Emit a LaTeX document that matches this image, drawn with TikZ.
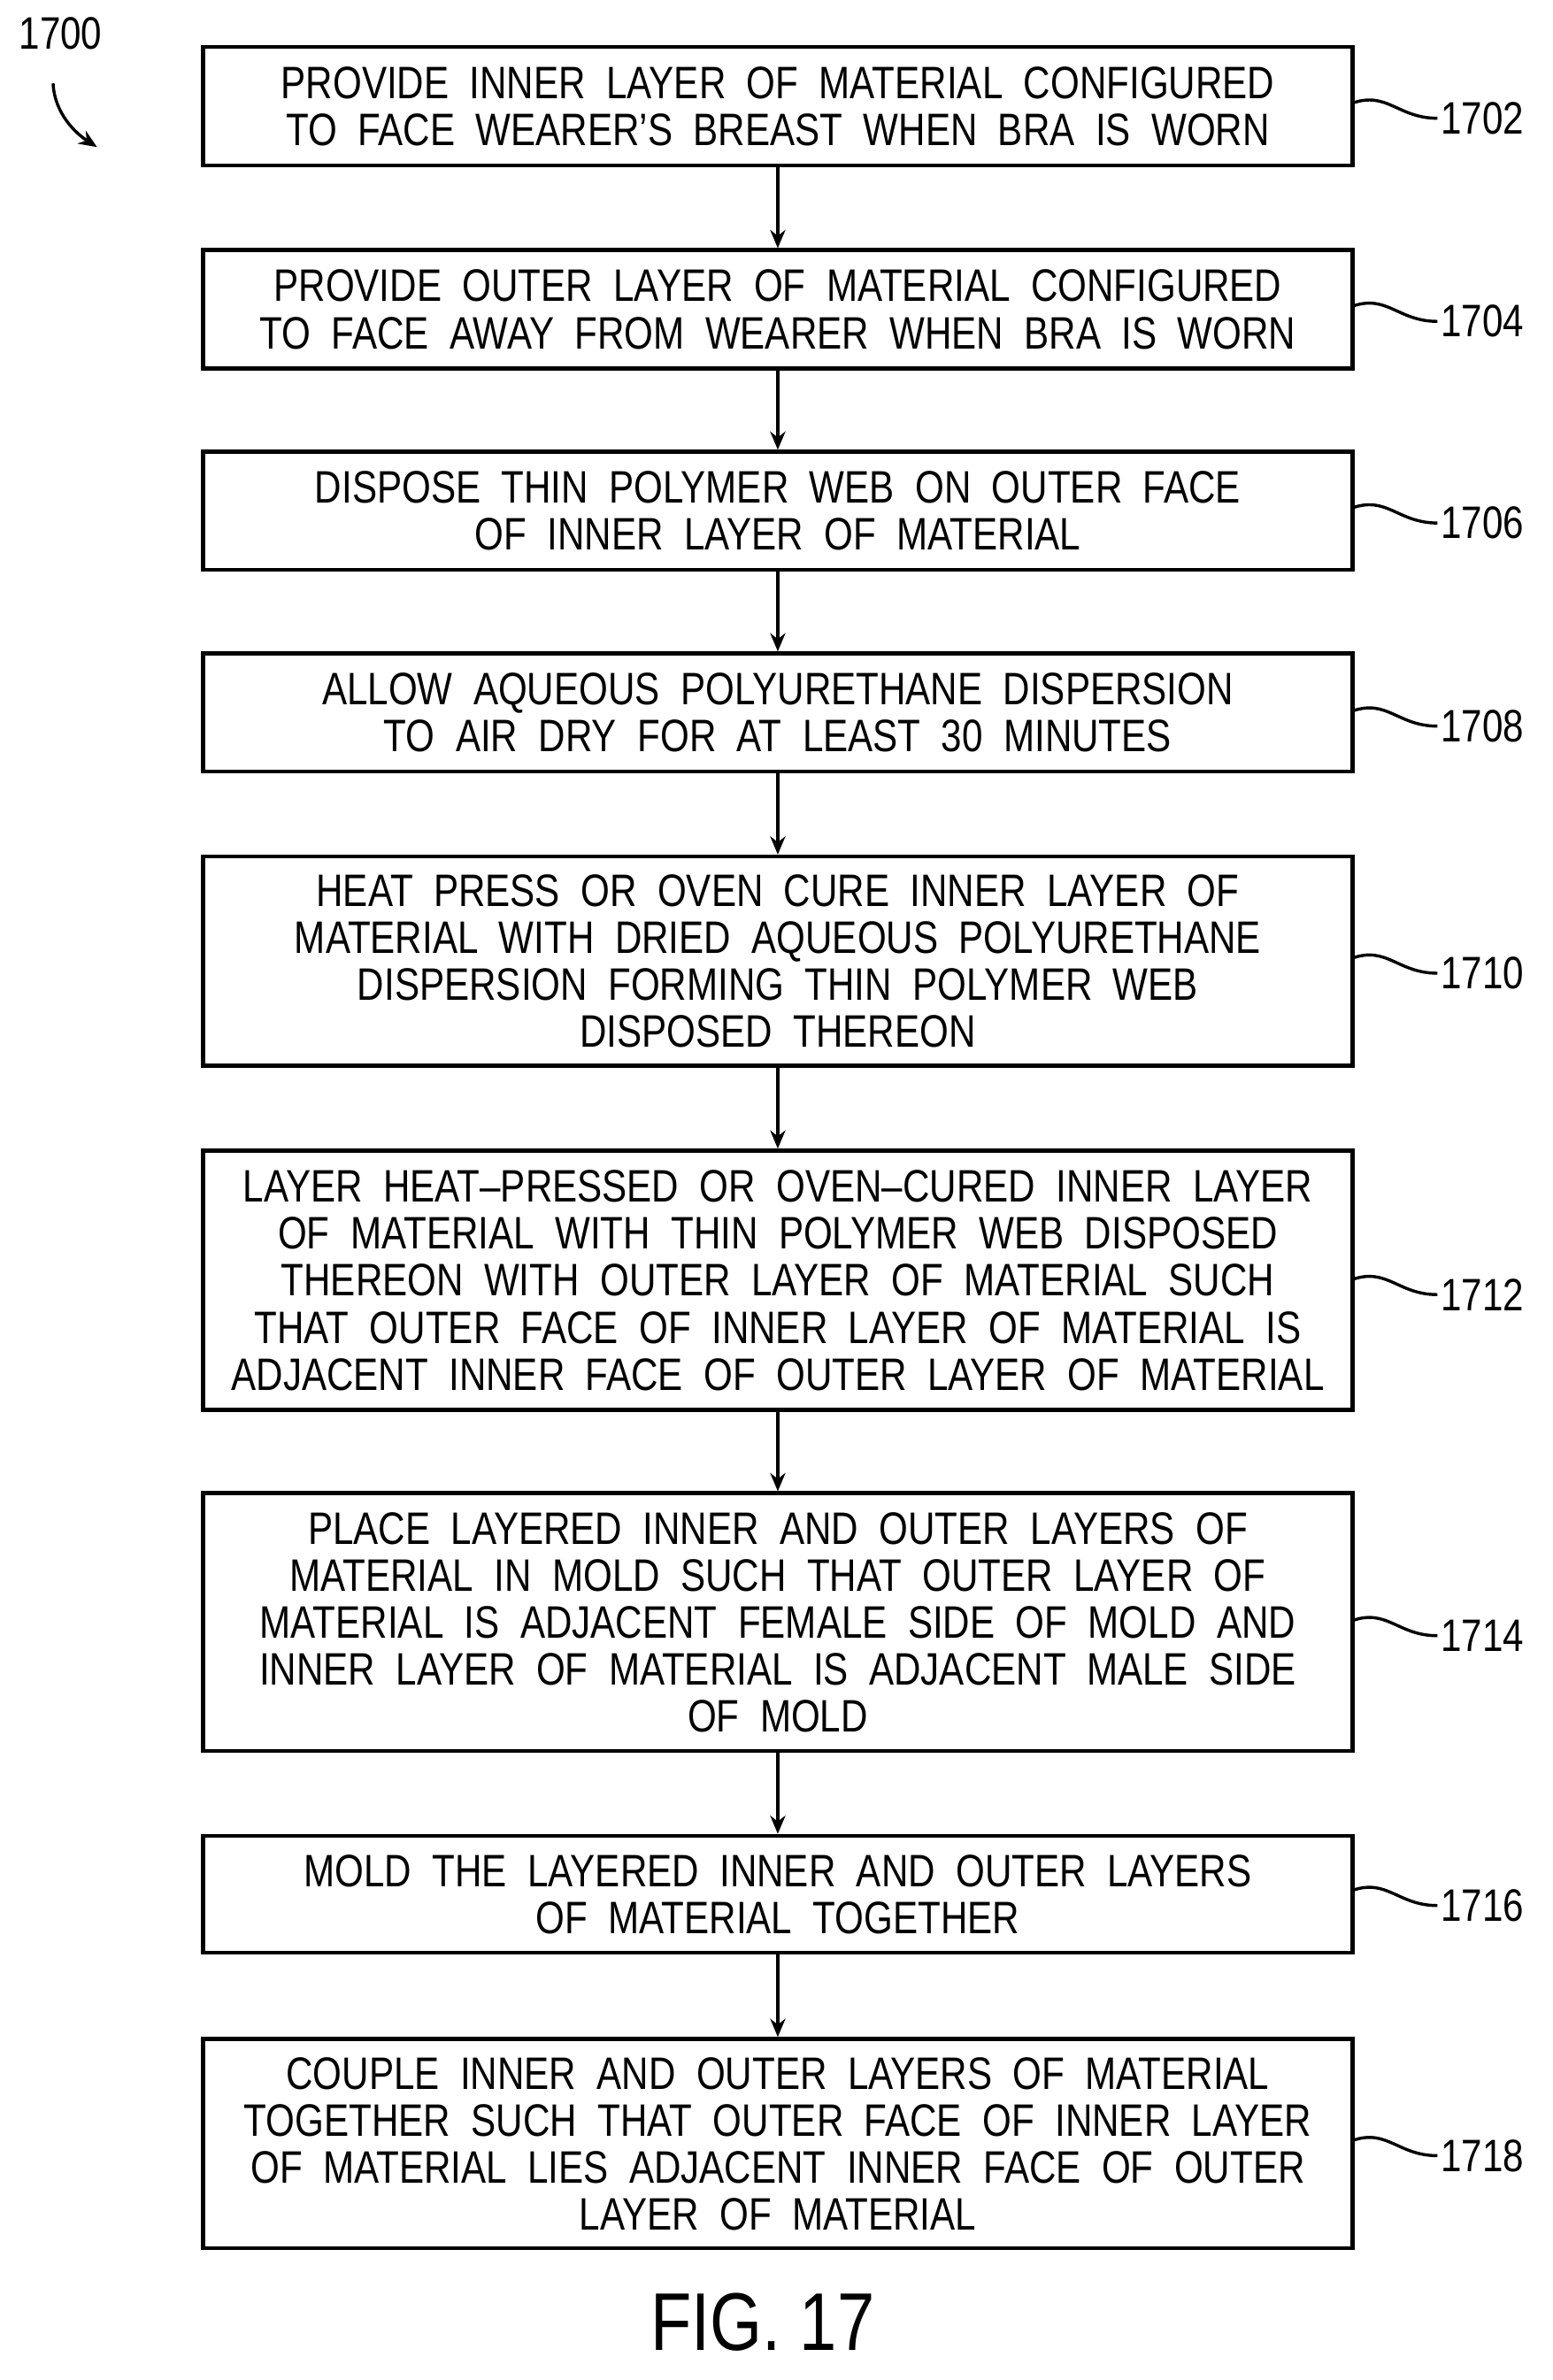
\documentclass[tikz,border=0pt]{standalone}
\usetikzlibrary{arrows.meta}
\usepackage{fontspec}
\setmainfont{Liberation Sans}[FakeStretch=0.82]
\begin{document}
\begin{tikzpicture}[x=0.5pt,y=-0.5pt,
 box/.style={draw,line width=1.3pt,minimum width=379pt,inner sep=0pt,align=center,font=\fontsize{15}{15.5}\selectfont,text depth=0pt},
 lab/.style={anchor=west,inner sep=1pt,font=\fontsize{15}{15}\selectfont},
 arr/.style={-{Stealth[length=6pt,width=5pt]},line width=1.3pt},
 sq/.style={line width=1pt}]
\useasboundingbox (0,0) rectangle (1024,1570);
\def\W{\ \ }
\node[box,minimum height=39pt] (b1) at (513,70) {PROVIDE\W INNER\W LAYER\W OF\W MATERIAL\W CONFIGURED\\TO\W FACE\W WEARER'S\W BREAST\W WHEN\W BRA\W IS\W WORN};
\node[box,minimum height=39pt] (b2) at (513,204) {PROVIDE\W OUTER\W LAYER\W OF\W MATERIAL\W CONFIGURED\\TO\W FACE\W AWAY\W FROM\W WEARER\W WHEN\W BRA\W IS\W WORN};
\node[box,minimum height=39pt] (b3) at (513,337) {DISPOSE\W THIN\W POLYMER\W WEB\W ON\W OUTER\W FACE\\OF\W INNER\W LAYER\W OF\W MATERIAL};
\node[box,minimum height=39pt] (b4) at (513,470) {ALLOW\W AQUEOUS\W POLYURETHANE\W DISPERSION\\TO\W AIR\W DRY\W FOR\W AT\W LEAST\W 30\W MINUTES};
\node[box,minimum height=69pt] (b5) at (513,634) {HEAT\W PRESS\W OR\W OVEN\W CURE\W INNER\W LAYER\W OF\\MATERIAL\W WITH\W DRIED\W AQUEOUS\W POLYURETHANE\\DISPERSION\W FORMING\W THIN\W POLYMER\W WEB\\DISPOSED\W THEREON};
\node[box,minimum height=85.5pt] (b6) at (513,844.5) {LAYER\W HEAT--PRESSED\W OR\W OVEN--CURED\W INNER\W LAYER\\OF\W MATERIAL\W WITH\W THIN\W POLYMER\W WEB\W DISPOSED\\THEREON\W WITH\W OUTER\W LAYER\W OF\W MATERIAL\W SUCH\\THAT\W OUTER\W FACE\W OF\W INNER\W LAYER\W OF\W MATERIAL\W IS\\ADJACENT\W INNER\W FACE\W OF\W OUTER\W LAYER\W OF\W MATERIAL};
\node[box,minimum height=85pt] (b7) at (513,1070) {PLACE\W LAYERED\W INNER\W AND\W OUTER\W LAYERS\W OF\\MATERIAL\W IN\W MOLD\W SUCH\W THAT\W OUTER\W LAYER\W OF\\MATERIAL\W IS\W ADJACENT\W FEMALE\W SIDE\W OF\W MOLD\W AND\\INNER\W LAYER\W OF\W MATERIAL\W IS\W ADJACENT\W MALE\W SIDE\\OF\W MOLD};
\node[box,minimum height=38.5pt] (b8) at (513,1249.5) {MOLD\W THE\W LAYERED\W INNER\W AND\W OUTER\W LAYERS\\OF\W MATERIAL\W TOGETHER};
\node[box,minimum height=69pt] (b9) at (513,1414) {COUPLE\W INNER\W AND\W OUTER\W LAYERS\W OF\W MATERIAL\\TOGETHER\W SUCH\W THAT\W OUTER\W FACE\W OF\W INNER\W LAYER\\OF\W MATERIAL\W LIES\W ADJACENT\W INNER\W FACE\W OF\W OUTER\\LAYER\W OF\W MATERIAL};
\foreach \i/\n/\y in {1/1702/78,2/1704/212,3/1706/345,4/1708/479,5/1710/642,6/1712/854,7/1714/1079,8/1716/1257,9/1718/1422}{
 \node[lab] (l\i) at (948,\y) {\n};
 \coordinate (s\i) at (892,\y-10);
 \draw[sq] (s\i) .. controls (915,\y-18) and (922,\y) .. (l\i.west);
}
\foreach \a/\b in {b1/b2,b2/b3,b3/b4,b4/b5,b5/b6,b6/b7,b7/b8,b8/b9}
 \draw[arr] (\a.south) -- (\b.north);
\node[font=\fontsize{15}{15}\selectfont] (n1700) at (40,22) {1700};
\coordinate (c0) at (35,55);
\coordinate (c1) at (64,97);
\draw[arr,line width=1pt] (c0) .. controls (36,75) and (50,88) .. (c1);
\node[font=\fontsize{27}{27}\selectfont] (fig) at (503,1532) {FIG.\ 17};
\end{tikzpicture}
\end{document}
